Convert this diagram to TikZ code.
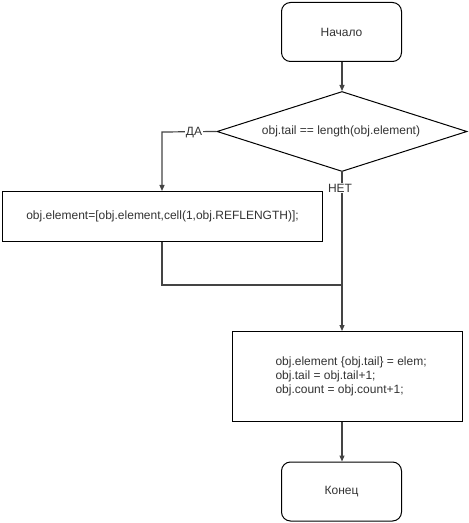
\documentclass[tikz,border=0pt]{standalone}
\usepackage{fontspec}
\setmainfont{Liberation Sans}
\usetikzlibrary{shapes.geometric,arrows.meta}
\definecolor{txt}{HTML}{333333}
\definecolor{wire}{HTML}{444444}
\begin{document}
\begin{tikzpicture}[x=1bp,y=-1bp,
  every node/.style={font=\fontsize{12bp}{14bp}\selectfont, text=txt},
  term/.style={draw=black, line width=1bp, rounded corners=9bp, minimum width=120bp, minimum height=59bp, inner sep=0pt},
  proc/.style={draw=black, line width=1bp, inner sep=0pt},
  cond/.style={draw=black, line width=1bp, diamond, aspect=3.125, minimum width=250bp, minimum height=80bp, inner sep=0pt},
  flow/.style={draw=wire, line width=1.2bp, -{Triangle[length=6bp,width=5bp]}},
  plain/.style={draw=wire, line width=1.2bp},
  lbl/.style={fill=white, inner sep=1bp}]
\useasboundingbox (0,0) rectangle (469,523);
\fill[white] (0,0) rectangle (469,523);

\node[term] (start) at (341.5,32) {Начало};
\node[cond] (check) at (342,131.5) {};
\node at (341,131.5) {obj.tail == length(obj.element)};
\node[proc, minimum width=320bp, minimum height=50bp] (grow) at (162.5,216.5) {obj.element=[obj.element,cell(1,obj.REFLENGTH)];};
\node[proc, minimum width=230bp, minimum height=90bp] (store) at (347.5,376.5) {};
\node[align=left, anchor=west] at (272,376) {obj.element \{obj.tail\} = elem;\\obj.tail = obj.tail+1;\\obj.count = obj.count+1;};
\node[term] (stop) at (341.5,491.5) {Конец};

\coordinate (joint) at (342,285);
\coordinate (bend) at (162,132);

\draw[flow] (start.south -| check.north) -- (check.north);
\draw[flow] (check.west) -- (bend) -- (bend |- grow.north);
\node[lbl] at (194,133) {ДА};
\draw[plain] (check.south) -- (joint);
\node[lbl] at (340,188) {НЕТ};
\draw[plain] (grow.south -| bend) |- (joint);
\draw[flow] (joint) -- (store.north -| joint);
\draw[flow] (store.south -| joint) -- (stop.north -| joint);
\end{tikzpicture}
\end{document}
